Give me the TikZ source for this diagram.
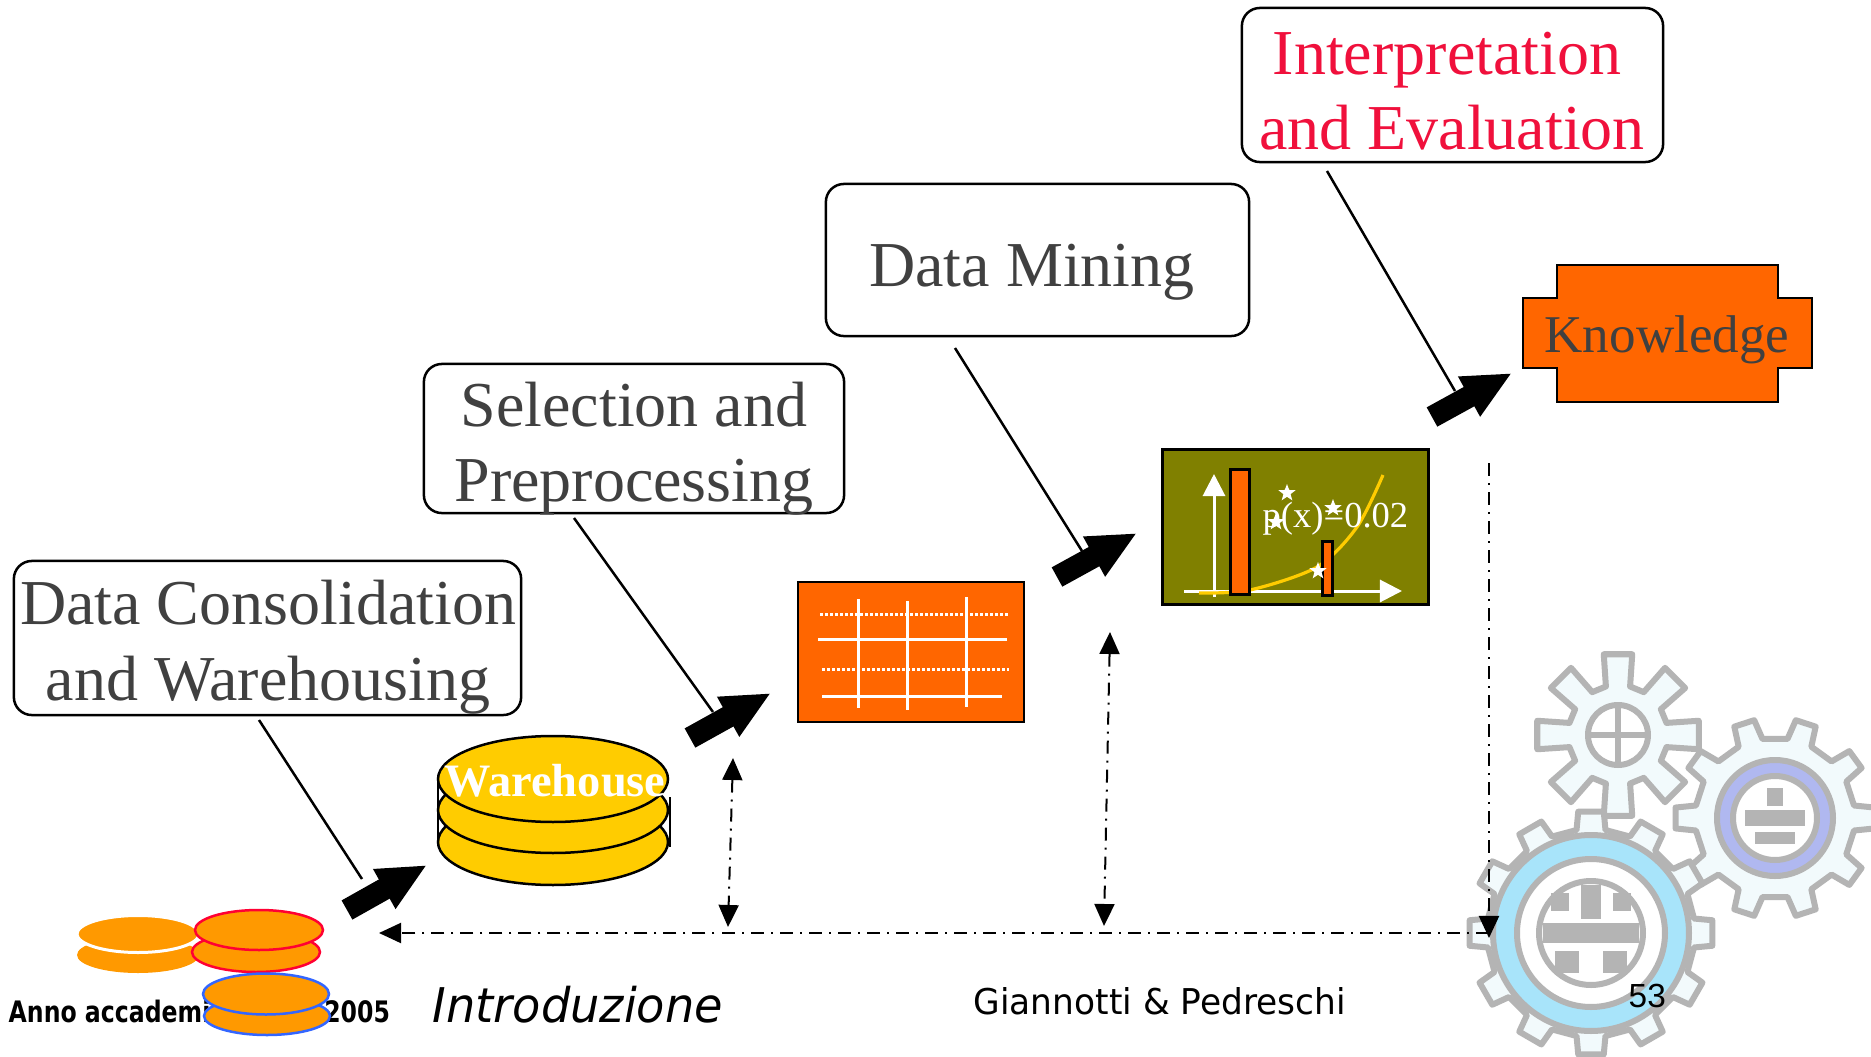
\documentclass[tikz,border=0pt]{standalone}
\usepackage{fontspec}
\usepackage{graphicx}
\setmainfont{Liberation Serif}
\newfontfamily\footfont{DejaVu Sans}
\newfontfamily\pagenumfont{Liberation Sans}
\usetikzlibrary{arrows.meta,shapes.geometric}

\definecolor{boxtext}{HTML}{404040}
\definecolor{evalred}{HTML}{F0103C}
\definecolor{tableorange}{HTML}{FF6600}
\definecolor{chartolive}{HTML}{808000}
\definecolor{dbyellow}{HTML}{FFCC00}
\definecolor{discorange}{HTML}{FF9900}
\definecolor{discred}{HTML}{FF0033}
\definecolor{discblue}{HTML}{3366FF}
\definecolor{geargray}{HTML}{B4B4B4}
\definecolor{gearblue}{HTML}{A8E4FA}
\definecolor{gearviolet}{HTML}{B0B8F0}
\definecolor{gearpale}{HTML}{F2FAFC}

% outline of a toothed wheel: teeth, root radius, tip radius, root half-angle, tip half-angle
\newcommand{\gearteeth}[5]{({360/#1-#4}:#2) \foreach \k in {1,...,#1}{ -- ({\k*360/#1-#4}:#2) -- ({\k*360/#1-#5}:#3) -- ({\k*360/#1+#5}:#3) -- ({\k*360/#1+#4}:#2) } -- cycle}

\tikzset{
  callout/.style={draw=black, line width=0.025cm, rounded corners=0.18cm, fill=white, inner sep=0pt},
  ctext/.style={anchor=base, inner sep=0pt, text=boxtext, font=\fontsize{18.2pt}{21.6pt}\selectfont},
  calline/.style={draw=black, line width=0.025cm},
  bigarrow/.style={line width=0.22cm, -{Triangle[length=0.49cm,width=0.42cm]}},
  dashdot/.style={line width=0.02cm, dash pattern=on 0.13cm off 0.07cm on 0.02cm off 0.07cm},
  dashtip/.style={-{Triangle[length=0.22cm,width=0.2cm]}},
  dashtips/.style={{Triangle[length=0.22cm,width=0.2cm]}-{Triangle[length=0.22cm,width=0.2cm]}},
  gearline/.style={draw=geargray, line width=0.06cm, line join=round},
  chartstar/.style={star, star points=5, star point ratio=2.4, fill=white, inner sep=0pt, minimum size=0.18cm},
  tableline/.style={white, line width=0.03cm},
  tabledots/.style={white, line width=0.03cm, dash pattern=on 0.025cm off 0.025cm},
}

\begin{document}
\begin{tikzpicture}[x=0.01cm, y=-0.01cm]
\useasboundingbox (0,0) rectangle (1871,1057);
\fill[white] (0,0) rectangle (1871,1057);

% ---------- gears (lower right) ----------
\begin{scope}[shift={(1618,735)}]
  \draw[gearline, fill=gearpale] \gearteeth{8}{50}{82}{14}{10};
  \draw[gearline, fill=white] (0,0) circle (30);
  \draw[gearline] (-30,0) -- (30,0) (0,-30) -- (0,30);
\end{scope}
\begin{scope}[shift={(1775,818)}]
  \draw[gearline, fill=gearpale] \gearteeth{10}{80}{100}{9}{6};
  \draw[gearline, fill=gearviolet] (0,0) circle (58);
  \draw[gearline, fill=white] (0,0) circle (42);
  \fill[geargray] (-30,-8) rectangle (30,8);
  \fill[geargray] (-8,-30) rectangle (8,-12);
  \fill[geargray] (-20,14) rectangle (20,26);
\end{scope}
\begin{scope}[shift={(1591,933)}]
  \draw[gearline, fill=gearpale] \gearteeth{12}{104}{122}{8}{6};
  \draw[gearline, fill=gearblue] (0,0) circle (98);
  \draw[gearline, fill=white] (0,0) circle (74);
  \draw[gearline] (0,0) circle (52);
  \fill[geargray] (-48,-10) rectangle (48,10);
  \fill[geargray] (-10,-48) rectangle (10,-14);
  \fill[geargray] (-36,18) rectangle (-12,40);
  \fill[geargray] (12,18) rectangle (36,40);
  \fill[geargray] (-40,-40) rectangle (-22,-22);
  \fill[geargray] (22,-40) rectangle (40,-22);
\end{scope}

% ---------- callout boxes ----------
\node[callout, minimum width=5.07cm, minimum height=1.54cm] (dcw) at (267.5,638) {};
\node[ctext] (dcw1) at (268,624) {Data Consolidation};
\node[ctext] (dcw2) at (268,700) {and Warehousing};

\node[callout, minimum width=4.20cm, minimum height=1.49cm] (sel) at (634,438.5) {};
\node[ctext] (sel1) at (634,426) {Selection and};
\node[ctext] (sel2) at (634,501) {Preprocessing};

\node[callout, minimum width=4.23cm, minimum height=1.52cm] (dm) at (1037.5,260) {};
\node[ctext] (dm1) at (1032,286) {Data Mining};

\node[callout, minimum width=4.21cm, minimum height=1.54cm] (ie) at (1452.5,85) {};
\node[ctext, text=evalred] (ie1) at (1447,74) {Interpretation};
\node[ctext, text=evalred] (ie2) at (1452,149) {and Evaluation};

% ---------- warehouse stack ----------
\draw[line width=0.025cm, fill=dbyellow] (553,842) ellipse [x radius=115, y radius=43];
\draw[line width=0.025cm, fill=dbyellow] (553,810) ellipse [x radius=115, y radius=43];
\draw[line width=0.025cm, fill=dbyellow] (553,779) ellipse [x radius=115, y radius=43];
\draw[line width=0.025cm] (438,779) -- (438,842);
\draw[line width=0.025cm] (670,797) -- (670,847);
\node[anchor=base, inner sep=0pt, text=white, font=\bfseries\fontsize{13.2pt}{14pt}\selectfont] (wh) at (555,796) {Warehouse};

% ---------- preprocessed table ----------
\draw[line width=0.025cm, fill=tableorange] (798,582) rectangle (1024,722);
\node[inner sep=0pt, minimum width=2.26cm, minimum height=1.40cm] (table) at (911,652) {};
\draw[tabledots] (820,614) -- (1008,614);
\draw[tableline] (818,639) -- (1007,639);
\draw[tabledots] (822,669) -- (1009,669);
\draw[tableline] (822,696) -- (1002,696);
\draw[tableline] (858,599) -- (858,708);
\draw[tableline] (907,601) -- (907,710);
\draw[tableline] (966,597) -- (966,707);

% ---------- mined pattern chart ----------
\draw[line width=0.03cm, fill=chartolive] (1162,449) rectangle (1428,604);
\node[inner sep=0pt, minimum width=2.66cm, minimum height=1.55cm] (chart) at (1295,526.5) {};
\draw[white, line width=0.03cm, -{Triangle[length=0.22cm,width=0.22cm]}] (1214,597) -- (1214,474);
\draw[white, line width=0.03cm, -{Triangle[length=0.22cm,width=0.22cm]}] (1184,591) -- (1402,591);
\draw[dbyellow, line width=0.032cm] plot[smooth] coordinates {(1199,593) (1250,590) (1317,567) (1357,527) (1383,475)};
\draw[line width=0.03cm, fill=tableorange] (1230,469) rectangle (1249,594);
\draw[line width=0.03cm, fill=tableorange] (1322,541) rectangle (1332,595);
\node[anchor=base west, inner sep=0pt, text=white, font=\fontsize{10.4pt}{12pt}\selectfont] (px) at (1262,527) {p(x)=0.02};
\node[chartstar] (st1) at (1287,493) {};
\node[chartstar] (st2) at (1276,522) {};
\node[chartstar] (st3) at (1333,508) {};
\node[chartstar] (st4) at (1318,571) {};

% ---------- knowledge ----------
\draw[line width=0.025cm, fill=tableorange]
  (1557,265) -- (1778,265) -- (1778,298) -- (1812,298) -- (1812,368) -- (1778,368)
  -- (1778,402) -- (1557,402) -- (1557,368) -- (1523,368) -- (1523,298) -- (1557,298) -- cycle;
\node[anchor=base, inner sep=0pt, text=boxtext, font=\fontsize{15.1pt}{18pt}\selectfont] (knowledge) at (1667,352) {Knowledge};

% ---------- callout leaders and step arrows ----------
\coordinate (dcwfoot) at (259,720);
\coordinate (dcwend) at (362,879);
\coordinate (selfoot) at (574,518);
\coordinate (selend) at (713,712);
\coordinate (dmfoot) at (955,348);
\coordinate (dmend) at (1082,551);
\coordinate (iefoot) at (1327,171);
\coordinate (ieend) at (1455,391);
\draw[calline] (dcwfoot) -- (dcwend);
\draw[calline] (selfoot) -- (selend);
\draw[calline] (dmfoot) -- (dmend);
\draw[calline] (iefoot) -- (ieend);

\coordinate (a1s) at (347,910);  \coordinate (a1e) at (427,865);
\coordinate (a2s) at (690,738);  \coordinate (a2e) at (771,693);
\coordinate (a3s) at (1057,577); \coordinate (a3e) at (1137,533);
\coordinate (a4s) at (1432,417); \coordinate (a4e) at (1512,373);
\draw[bigarrow] (a1s) -- (a1e);
\draw[bigarrow] (a2s) -- (a2e);
\draw[bigarrow] (a3s) -- (a3e);
\draw[bigarrow] (a4s) -- (a4e);

% ---------- feedback loop ----------
\coordinate (fbtop) at (1489,463);
\coordinate (fbcorner) at (1489,938);
\coordinate (fbright) at (1489,933);
\coordinate (fbleft) at (379,933);
\coordinate (v1top) at (733,758);  \coordinate (v1bot) at (728,927);
\coordinate (v2top) at (1110,632); \coordinate (v2bot) at (1104,926);
\draw[dashdot, dashtip] (fbtop) -- (fbcorner);
\draw[dashdot, dashtip] (fbright) -- (fbleft);
\draw[dashdot, dashtips] (v1top) -- (v1bot);
\draw[dashdot, dashtips] (v2top) -- (v2bot);

% ---------- footer ----------
\fill[discorange] (138,955) ellipse [x radius=61, y radius=18];
\draw[white, line width=0.03cm, fill=discorange] (138,934) ellipse [x radius=61, y radius=18.5];
\draw[discred, line width=0.025cm, fill=discorange] (256,952) ellipse [x radius=64, y radius=20];
\draw[discred, line width=0.025cm, fill=discorange] (259,930) ellipse [x radius=64, y radius=20];

\node[anchor=base west, inner sep=0pt] (year) at (8,1022)
  {\resizebox{3.81cm}{\height}{\footfont\bfseries\fontsize{8.4pt}{10pt}\selectfont Anno accademico 2004-2005}};

\draw[discblue, line width=0.025cm, fill=discorange] (267,1016) ellipse [x radius=63, y radius=19];
\draw[discblue, line width=0.025cm, fill=discorange] (266,994) ellipse [x radius=63, y radius=20.5];

\node[anchor=base west, inner sep=0pt] (intro) at (432,1022)
  {\resizebox{2.90cm}{\height}{\footfont\itshape\fontsize{13.6pt}{16pt}\selectfont Introduzione}};
\node[anchor=base west, inner sep=0pt] (authors) at (973,1014)
  {\resizebox{3.72cm}{\height}{\footfont\fontsize{10.1pt}{12pt}\selectfont Giannotti \& Pedreschi}};
\node[anchor=base west, inner sep=0pt, font=\pagenumfont\fontsize{9.5pt}{11pt}\selectfont] (pagenum) at (1628,1007) {53};

\end{tikzpicture}
\end{document}
